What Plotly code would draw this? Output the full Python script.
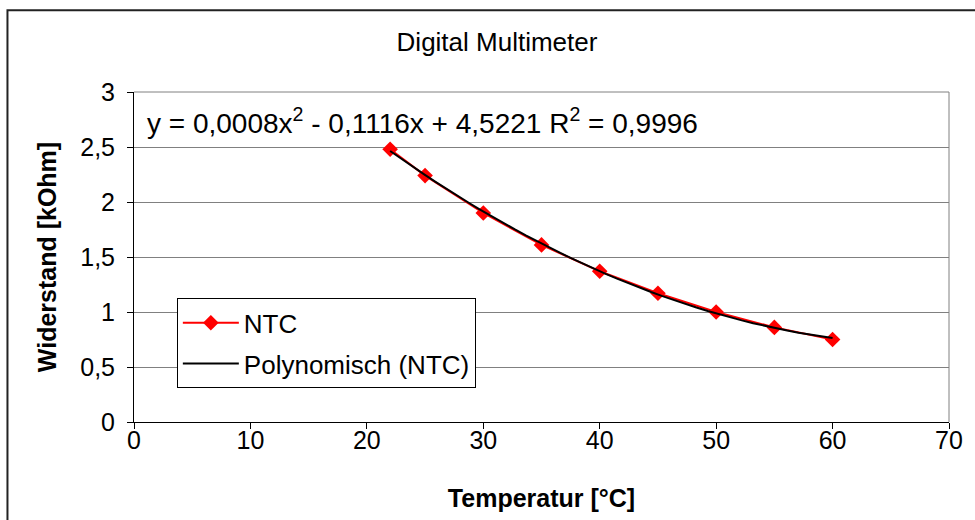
import numpy as np
import plotly.graph_objects as go

# Data
temperature = [22, 25, 30, 35, 40, 45, 50, 55, 60]
resistance = [2.48, 2.24, 1.90, 1.61, 1.37, 1.17, 1.00, 0.86, 0.75]
x_ticks = [0, 10, 20, 30, 40, 50, 60, 70]
y_ticks = [0, 0.5, 1, 1.5, 2, 2.5, 3]
y_tick_labels = ["0", "0,5", "1", "1,5", "2", "2,5", "3"]
equation_text = "y = 0,0008x<sup>2</sup> - 0,1116x + 4,5221 R<sup>2</sup> = 0,9996"

# Polynomial trend (2nd order fit of the data, as in the chart)
coef = np.polyfit(temperature, resistance, 2)
trend_x = np.linspace(min(temperature), max(temperature), 40)
trend_y = np.polyval(coef, trend_x)

FONT = "Liberation Sans, Arial, sans-serif"
FS = 25

fig = go.Figure()
fig.add_trace(go.Scatter(
    x=temperature, y=resistance, mode="lines+markers", name="NTC",
    line=dict(color="#FF0000", width=2),
    marker=dict(symbol="diamond", size=12, color="#FF0000"),
    legendgroup="a",
))
fig.add_trace(go.Scatter(
    x=trend_x, y=trend_y, mode="lines", name="Polynomisch (NTC)",
    line=dict(color="#000000", width=2),
    legendgroup="b",
))

W, H = 975, 520
L, R, T, B = 134, W - 952, 92, H - 423

fig.update_layout(
    width=W, height=H,
    margin=dict(l=L, r=R, t=T, b=B),
    paper_bgcolor="white", plot_bgcolor="white",
    font=dict(family=FONT, size=FS, color="black"),
    separators=",.",
    title=dict(text="Digital Multimeter", x=(497) / W, xanchor="center",
               y=1 - 42 / H, yanchor="middle", font=dict(size=26)),
    showlegend=True,
    legend=dict(
        x=(177 - L) / (952 - L), y=(423 - 299) / (423 - 92),
        xanchor="left", yanchor="top",
        bgcolor="white", bordercolor="black", borderwidth=1,
        font=dict(size=26), itemwidth=56, tracegroupgap=4,
    ),
    xaxis=dict(
        range=[0, 70], tickmode="array", tickvals=x_ticks,
        showgrid=False, zeroline=False,
        showline=True, linecolor="black", linewidth=1,
        ticks="outside", ticklen=6, tickcolor="black",
        ticklabelstandoff=-10,
        title=dict(text="<b>Temperatur [°C]</b>", font=dict(size=FS), standoff=36),
    ),
    yaxis=dict(
        range=[0, 3], tickmode="array", tickvals=y_ticks, ticktext=y_tick_labels,
        showgrid=True, gridcolor="#808080", gridwidth=1, zeroline=False,
        showline=True, linecolor="black", linewidth=1,
        ticks="outside", ticklen=6, tickcolor="black",
        ticklabelstandoff=7,
        title=dict(text="<b>Widerstand [kOhm]</b>", font=dict(size=FS), standoff=16),
    ),
    annotations=[dict(
        text=equation_text, xref="paper", yref="paper",
        x=(145 - L) / (952 - L), y=(423 - 121) / (423 - 92),
        xanchor="left", yanchor="middle", showarrow=False,
        font=dict(size=28),
    )],
    shapes=[
        # right border of plot area
        dict(type="line", xref="paper", yref="paper", x0=1, x1=1, y0=0, y1=1,
             line=dict(color="#808080", width=1)),
        # top gridline (edge)
        dict(type="line", xref="paper", yref="paper", x0=0, x1=1, y0=1, y1=1,
             line=dict(color="#808080", width=1)),
        # outer chart frame
        dict(type="rect", xref="paper", yref="paper",
             x0=(7 - L) / (952 - L), x1=1.2,
             y0=-0.6, y1=(423 - 10) / (423 - 92),
             line=dict(color="#222222", width=2), layer="below"),
    ],
)

fig.write_html("out.html")
